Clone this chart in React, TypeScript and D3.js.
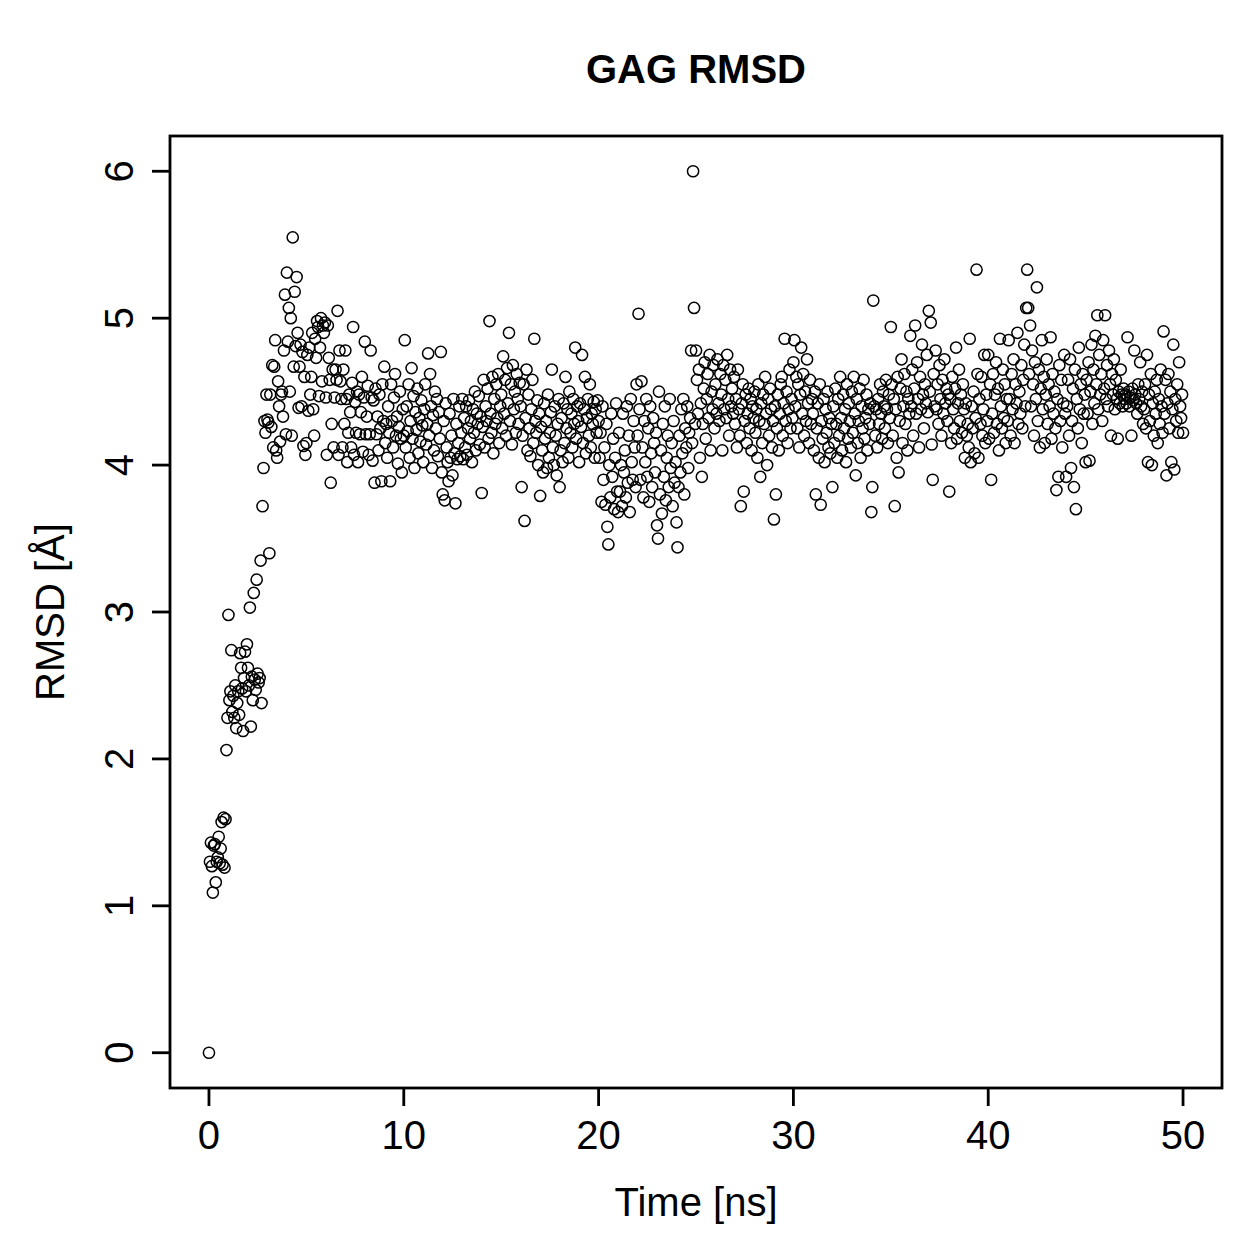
import React from 'react'
import { scaleLinear } from 'd3'

// RMSD values, one frame every 0.05 ns, split in 10 ns blocks
const rmsd0to10 = [
  0.00, 1.30, 1.43, 1.27, 1.09, 1.41, 1.42, 1.16, 1.30, 1.33, 1.47, 1.29, 1.39, 1.57, 1.28, 1.60, 1.26, 1.59, 2.06, 2.28,
  2.98, 2.40, 2.46, 2.74, 2.32, 2.43, 2.28, 2.50, 2.21, 2.38, 2.46, 2.30, 2.72, 2.62, 2.48, 2.19, 2.55, 2.73, 2.46, 2.78,
  2.62, 2.50, 3.03, 2.22, 2.56, 2.40, 3.13, 2.54, 2.47, 3.22, 2.58, 2.52, 2.55, 3.35, 2.38, 3.72, 3.98, 4.30, 4.22, 4.48,
  4.31, 4.29, 3.40, 4.48, 4.26, 4.68, 4.12, 4.67, 4.85, 4.10, 4.05, 4.57, 4.40, 4.16, 4.48, 4.50, 4.33, 4.78, 5.16, 4.21,
  5.31, 4.84, 5.07, 4.50, 5.00, 4.20, 5.55, 4.67, 5.18, 4.81, 5.28, 4.90, 4.39, 4.67, 4.82, 4.40, 4.77, 4.13, 4.60, 4.07,
  4.15, 4.75, 4.37, 4.80, 4.48, 4.60, 4.90, 4.38, 4.20, 4.86, 4.73, 4.98, 4.94, 4.47, 4.80, 5.00, 4.57, 4.95, 4.90, 4.97,
  4.46, 4.07, 4.95, 4.73, 4.58, 3.88, 4.28, 4.65, 4.12, 4.46, 4.65, 4.58, 5.05, 4.07, 4.78, 4.57, 4.45, 4.12, 4.65, 4.28,
  4.78, 4.45, 4.02, 4.22, 4.48, 4.36, 4.12, 4.56, 4.94, 4.07, 4.43, 4.22, 4.50, 4.02, 4.48, 4.21, 4.36, 4.60, 4.09, 4.46,
  4.84, 4.21, 4.33, 4.54, 4.07, 4.21, 4.78, 4.46, 4.03, 4.44, 3.88, 4.52, 4.21, 4.33, 4.10, 4.48, 4.25, 3.89, 4.55, 4.30,
  4.67, 4.15, 4.28, 4.05, 4.40, 4.22, 3.89, 4.55, 4.30, 4.12, 4.46, 4.62, 4.20, 4.33, 4.01, 4.26, 4.50, 4.18, 3.95, 4.38,
]
const rmsd10to20 = [
  4.20, 4.85, 4.12, 4.40, 4.23, 4.55, 4.05, 4.30, 4.66, 4.18, 4.47, 3.98, 4.36, 4.24, 4.52, 4.08, 4.32, 4.16, 4.44, 4.27,
  4.02, 4.38, 4.55, 4.14, 4.28, 4.76, 4.20, 4.62, 4.40, 3.98, 4.34, 4.10, 4.50, 4.25, 4.45, 4.06, 4.36, 4.18, 4.77, 3.95,
  3.80, 4.30, 3.76, 4.42, 4.12, 4.02, 3.89, 4.35, 4.05, 4.20, 3.93, 4.45, 4.08, 3.74, 4.28, 4.04, 4.15, 4.40, 4.06, 4.22,
  4.45, 4.04, 4.32, 4.12, 4.40, 4.07, 4.25, 4.44, 4.18, 4.30, 4.02, 4.38, 4.22, 4.50, 4.10, 4.35, 4.28, 4.47, 4.14, 4.33,
  3.81, 4.26, 4.58, 4.12, 4.40, 4.30, 4.52, 4.18, 4.98, 4.35, 4.22, 4.60, 4.08, 4.45, 4.28, 4.55, 4.32, 4.62, 4.15, 4.40,
  4.48, 4.25, 4.74, 4.35, 4.58, 4.20, 4.66, 4.42, 4.90, 4.30, 4.55, 4.14, 4.68, 4.38, 4.50, 4.22, 4.62, 4.45, 4.28, 4.56,
  4.40, 3.85, 4.20, 4.55, 3.62, 4.32, 4.65, 4.10, 4.48, 4.25, 4.06, 4.38, 4.58, 4.15, 4.86, 4.30, 4.22, 4.44, 4.00, 4.35,
  3.79, 4.26, 4.10, 3.95, 4.42, 4.18, 4.30, 3.98, 4.48, 4.05, 4.22, 4.36, 4.65, 4.12, 4.00, 4.40, 4.20, 3.93, 4.28, 4.45,
  3.85, 4.10, 4.32, 4.02, 4.42, 4.15, 4.60, 4.25, 4.38, 4.05, 4.50, 4.22, 4.35, 4.12, 4.45, 4.28, 4.80, 4.18, 4.40, 4.30,
  4.02, 4.42, 4.26, 4.75, 4.15, 4.38, 4.60, 4.08, 4.32, 4.45, 4.20, 4.55, 4.12, 4.35, 4.28, 4.43, 4.05, 4.38, 4.22, 4.44,
]
const rmsd20to30 = [
  4.30, 4.05, 4.22, 3.75, 4.40, 3.90, 4.12, 3.73, 4.28, 3.58, 3.46, 4.00, 3.78, 4.35, 3.92, 4.18, 3.70, 4.05, 4.42, 3.82,
  3.68, 4.22, 3.82, 4.00, 3.72, 4.35, 3.95, 4.10, 3.78, 4.40, 3.88, 4.20, 3.68, 4.45, 4.02, 3.90, 4.30, 4.12, 3.85, 4.55,
  4.20, 5.03, 4.38, 3.90, 4.57, 4.12, 3.78, 4.30, 4.02, 4.45, 3.92, 4.25, 3.75, 4.40, 4.08, 3.85, 4.32, 4.15, 3.95, 4.22,
  3.59, 3.50, 4.50, 3.80, 4.10, 3.67, 4.28, 3.92, 4.40, 3.76, 4.05, 4.20, 3.85, 4.45, 3.98, 4.15, 3.72, 4.30, 3.88, 4.02,
  3.61, 3.44, 3.85, 4.20, 3.95, 4.38, 4.08, 4.45, 3.80, 4.25, 4.12, 4.40, 3.98, 4.22, 4.32, 4.78, 4.15, 6.00, 5.07, 4.28,
  4.78, 4.58, 4.35, 4.65, 4.05, 4.42, 3.92, 4.28, 4.52, 4.70, 4.18, 4.45, 4.62, 4.32, 4.75, 4.10, 4.50, 4.38, 4.68, 4.25,
  4.55, 4.35, 4.72, 4.42, 4.30, 4.62, 4.48, 4.10, 4.68, 4.38, 4.58, 4.32, 4.75, 4.45, 4.20, 4.65, 4.40, 4.52, 4.35, 4.60,
  4.28, 4.45, 4.12, 4.65, 4.38, 4.20, 3.72, 4.42, 4.55, 3.82, 4.30, 4.48, 4.15, 4.35, 4.52, 4.25, 4.45, 4.10, 4.40, 4.32,
  4.50, 4.22, 4.38, 4.05, 4.55, 4.30, 3.92, 4.42, 4.15, 4.48, 4.28, 4.60, 4.35, 4.00, 4.45, 4.20, 4.52, 4.38, 4.12, 4.30,
  3.63, 4.40, 3.80, 4.25, 4.48, 4.10, 4.35, 4.55, 4.60, 4.20, 4.42, 4.86, 4.30, 4.50, 4.15, 4.38, 4.65, 4.25, 4.45, 4.32,
]
const rmsd30to40 = [
  4.70, 4.85, 4.40, 4.60, 4.25, 4.55, 4.12, 4.48, 4.80, 4.35, 4.62, 4.20, 4.50, 4.30, 4.72, 4.42, 4.15, 4.58, 4.28, 4.45,
  4.35, 4.10, 4.50, 3.80, 4.25, 4.42, 4.05, 4.55, 3.73, 4.30, 4.18, 4.45, 4.02, 4.38, 4.22, 4.50, 4.12, 4.32, 4.08, 4.28,
  3.85, 4.40, 4.15, 4.52, 4.28, 4.05, 4.45, 4.20, 4.60, 4.32, 4.10, 4.48, 4.25, 4.38, 4.02, 4.55, 4.18, 4.42, 4.30, 4.12,
  4.50, 4.22, 4.60, 4.35, 3.93, 4.45, 4.15, 4.30, 4.52, 4.05, 4.40, 4.25, 4.58, 4.18, 4.32, 4.48, 4.10, 4.38, 4.28, 4.42,
  3.68, 3.85, 5.12, 4.40, 4.20, 4.38, 4.12, 4.45, 4.28, 4.55, 4.35, 4.18, 4.50, 4.40, 4.25, 4.58, 4.38, 4.15, 4.48, 4.32,
  4.94, 4.55, 4.20, 4.45, 3.72, 4.38, 4.05, 4.60, 3.95, 4.30, 4.52, 4.72, 4.15, 4.40, 4.62, 4.28, 4.50, 4.10, 4.45, 4.35,
  4.88, 4.40, 4.65, 4.20, 4.52, 4.95, 4.35, 4.70, 4.45, 4.12, 4.60, 4.38, 4.82, 4.48, 4.25, 4.55, 4.42, 4.75, 4.36, 5.05,
  4.50, 4.97, 4.14, 3.90, 4.62, 4.40, 4.78, 4.38, 4.55, 4.28, 4.68, 4.45, 4.20, 4.58, 4.35, 4.72, 4.42, 4.52, 4.30, 4.48,
  3.82, 4.45, 4.15, 4.60, 4.38, 4.25, 4.52, 4.80, 4.18, 4.42, 4.65, 4.30, 4.48, 4.22, 4.55, 4.38, 4.05, 4.42, 4.20, 4.28,
  4.12, 4.86, 4.02, 4.40, 4.25, 4.50, 4.08, 4.32, 5.33, 4.62, 4.05, 4.45, 4.28, 4.60, 4.20, 4.38, 4.75, 4.15, 4.48, 4.30,
]
const rmsd40to50 = [
  4.75, 4.18, 4.55, 3.90, 4.35, 4.62, 4.22, 4.48, 4.70, 4.28, 4.52, 4.10, 4.86, 4.40, 4.25, 4.65, 4.32, 4.55, 4.15, 4.45,
  4.30, 4.85, 4.45, 4.20, 4.62, 4.38, 4.72, 4.15, 4.55, 4.42, 4.90, 4.28, 4.50, 4.35, 4.68, 4.25, 4.58, 4.82, 4.40, 5.07,
  5.33, 5.07, 4.62, 4.95, 4.40, 4.78, 4.55, 4.20, 4.70, 4.45, 5.21, 4.30, 4.65, 4.12, 4.52, 4.85, 4.38, 4.60, 4.15, 4.48,
  4.72, 4.28, 4.55, 4.40, 4.87, 4.18, 4.62, 4.35, 4.50, 4.25, 3.83, 4.45, 3.92, 4.68, 4.30, 4.58, 4.12, 4.42, 4.75, 4.35,
  3.92, 4.40, 4.58, 4.20, 4.72, 3.98, 4.30, 4.52, 3.85, 4.65, 3.70, 4.45, 4.25, 4.80, 4.38, 4.55, 4.15, 4.62, 4.35, 4.48,
  4.02, 4.58, 4.35, 4.70, 4.03, 4.50, 4.82, 4.28, 4.65, 4.42, 4.88, 4.55, 5.02, 4.38, 4.75, 4.48, 4.62, 4.30, 4.85, 4.52,
  5.02, 4.45, 4.68, 4.40, 4.78, 4.55, 4.20, 4.62, 4.48, 4.72, 4.38, 4.58, 4.45, 4.18, 4.50, 4.42, 4.65, 4.48, 4.40, 4.52,
  4.45, 4.48, 4.42, 4.87, 4.50, 4.40, 4.46, 4.20, 4.52, 4.44, 4.78, 4.48, 4.42, 4.35, 4.55, 4.45, 4.70, 4.40, 4.50, 4.28,
  4.38, 4.55, 4.25, 4.75, 4.02, 4.48, 4.30, 4.62, 4.00, 4.42, 4.20, 4.50, 4.35, 4.58, 4.15, 4.45, 4.28, 4.65, 4.40, 4.22,
  4.91, 4.35, 4.58, 3.93, 4.42, 4.62, 4.25, 4.50, 4.02, 4.38, 4.82, 3.97, 4.45, 4.30, 4.55, 4.22, 4.70, 4.40, 4.32, 4.48,
  4.22,
]

const xTicks = [0, 10, 20, 30, 40, 50]
const yTicks = [0, 1, 2, 3, 4, 5, 6]
const timeRange = [0, 50]

const rmsd = [...rmsd0to10, ...rmsd10to20, ...rmsd20to30, ...rmsd30to40, ...rmsd40to50]
const step = (timeRange[1] - timeRange[0]) / (rmsd.length - 1)

const font = '"Liberation Sans", Arial, Helvetica, sans-serif'

const App = () => {
  const left = 170, right = 1222, top = 136, bottom = 1088

  // R style: 4% padding on both axes
  const xScale = scaleLinear().domain([-2, 52]).range([left, right])
  const yScale = scaleLinear().domain([-0.24, 6.24]).range([bottom, top])

  return (
    <div style={{ position: 'absolute', left: 0, top: 0 }}>
      <svg width={1259} height={1259} style={{ display: 'block', background: '#fff' }}>
        <text x={(left + right) / 2} y={83} textAnchor="middle" fontFamily={font}
          fontWeight="bold" fontSize={40}>GAG RMSD</text>

        {rmsd.map((v, i) => (
          <circle key={i} cx={xScale(timeRange[0] + i * step)} cy={yScale(v)} r={5.6}
            fill="none" stroke="#000" strokeWidth={1.5} />
        ))}

        <rect x={left} y={top} width={right - left} height={bottom - top}
          fill="none" stroke="#000" strokeWidth={2.8} />

        {/* x axis */}
        {xTicks.map(t => (
          <g key={'x' + t}>
            <line x1={xScale(t)} x2={xScale(t)} y1={bottom} y2={bottom + 18} stroke="#000" strokeWidth={2.8} />
            <text x={xScale(t)} y={1149} textAnchor="middle" fontFamily={font} fontSize={40}>{t}</text>
          </g>
        ))}
        <text x={(left + right) / 2} y={1216} textAnchor="middle" fontFamily={font} fontSize={40}>Time [ns]</text>

        {/* y axis */}
        {yTicks.map(t => (
          <g key={'y' + t}>
            <line x1={left - 18} x2={left} y1={yScale(t)} y2={yScale(t)} stroke="#000" strokeWidth={2.8} />
            <text x={133} y={yScale(t)} textAnchor="middle" fontFamily={font} fontSize={40}
              transform={`rotate(-90, 133, ${yScale(t)})`}>{t}</text>
          </g>
        ))}
        <text x={64} y={(top + bottom) / 2} textAnchor="middle" fontFamily={font} fontSize={40}
          transform={`rotate(-90, 64, ${(top + bottom) / 2})`}>RMSD [Å]</text>
      </svg>
    </div>
  )
}

export default App
